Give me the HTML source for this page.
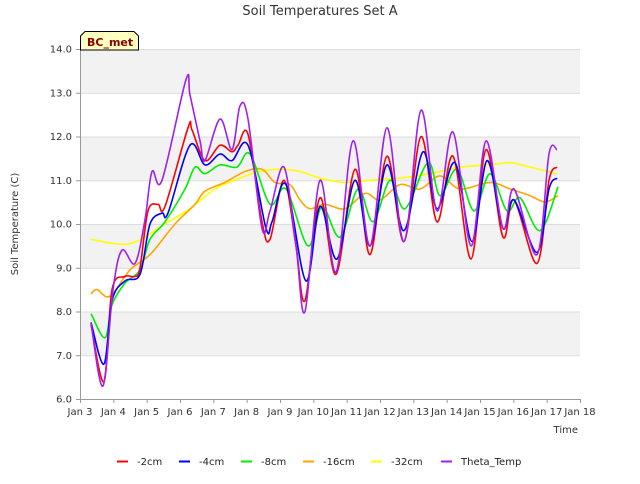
<!DOCTYPE html>
<html><head><meta charset="utf-8"><style>
body{margin:0;background:#fff;font-family:"DejaVu Sans","Liberation Sans",sans-serif;}
svg text{font-family:"DejaVu Sans","Liberation Sans",sans-serif;}
</style></head><body>
<svg id="chart" width="640" height="480" xmlns="http://www.w3.org/2000/svg">
<text x="320" y="15" text-anchor="middle" font-size="13" fill="#333">Soil Temperatures Set A</text>
<g id="plot"></g>
<g id="axes"></g>
<g id="series"></g>
<g>
<path d="M80.5,50 L80.5,36 L85,31.5 L134,31.5 L138.5,36 L138.5,50 Z" fill="#ffffc0" stroke="#000" stroke-width="1"/>
<text x="87" y="46" font-size="11" font-weight="bold" fill="#8b0000">BC_met</text>
</g>
<text x="18" y="224" font-size="10" fill="#333" text-anchor="middle" transform="rotate(-90 18 224)">Soil Temperature (C)</text>
<text x="578" y="433" font-size="10" fill="#333" text-anchor="end">Time</text>
<g id="legend"></g>
</svg>
<script>
const yTicks=[6,7,8,9,10,11,12,13,14];
const xTicks=[3,4,5,6,7,8,9,10,11,12,13,14,15,16,17,18];
const xTickLabels=["Jan 3","Jan 4","Jan 5","Jan 6","Jan 7","Jan 8","Jan 9","Jan 10","Jan 11","Jan 12","Jan 13","Jan 14","Jan 15","Jan 16","Jan 17","Jan 18"];
const seriesNames=["-2cm","-4cm","-8cm","-16cm","-32cm","Theta_Temp"];
const seriesColors=["#ff0000","#0000ff","#00ee00","#ffa500","#ffff00","#a020f0"];
const tRed=[3.33,3.72,3.96,4.35,4.65,4.8,5.04,5.34,5.55,6.24,6.36,6.75,7.2,7.56,7.74,8.04,8.46,8.7,9.12,9.48,9.75,10.2,10.68,11.25,11.7,12.21,12.72,13.23,13.71,14.19,14.73,15.18,15.69,16.02,16.71,17.07,17.31];
const vRed=[7.7,6.4,8.5,8.8,8.8,9.0,10.3,10.45,10.4,12.2,12.15,11.45,11.8,11.65,11.8,12.05,10.05,9.65,11.0,9.5,8.25,10.6,8.85,11.25,9.3,11.55,9.6,12.0,10.05,11.55,9.2,11.7,9.7,10.55,9.1,11.0,11.3];
const tBlue=[3.33,3.72,3.96,4.35,4.8,5.1,5.46,5.64,6.3,6.75,7.2,7.56,8.04,8.58,8.76,9.18,9.78,10.2,10.71,11.25,11.7,12.21,12.72,13.29,13.71,14.25,14.76,15.21,15.69,16.02,16.71,17.07,17.31];
const vBlue=[7.75,6.8,8.25,8.7,8.85,10.0,10.25,10.25,11.8,11.35,11.6,11.45,11.8,9.9,10.05,10.9,8.7,10.4,9.2,11.0,9.5,11.35,9.85,11.65,10.35,11.4,9.6,11.45,9.9,10.55,9.35,10.8,11.05];
const tGreen=[3.33,3.75,3.96,4.35,4.8,5.1,5.55,6.15,6.45,6.75,7.2,7.71,8.1,8.7,9.18,9.84,10.26,10.8,11.34,11.79,12.3,12.75,13.44,13.8,14.31,14.82,15.3,15.81,16.2,16.8,17.34];
const vGreen=[7.95,7.4,8.15,8.65,8.95,9.65,10.05,10.8,11.3,11.15,11.35,11.3,11.6,10.45,10.8,9.5,10.4,9.7,10.8,10.05,11.0,10.35,11.4,10.65,11.25,10.3,11.15,10.3,10.6,9.85,10.85];
const tOrange=[3.33,3.51,3.9,4.5,5.1,5.85,6.45,6.75,7.35,7.95,8.46,8.85,9.3,9.6,9.9,10.35,10.95,11.55,12.0,12.6,13.2,13.8,14.4,15.3,15.9,16.5,16.95,17.34];
const vOrange=[8.4,8.5,8.35,8.95,9.3,10.0,10.45,10.75,10.95,11.2,11.25,10.95,10.9,10.55,10.35,10.45,10.35,10.7,10.55,10.9,10.8,11.1,10.8,10.95,10.8,10.65,10.5,10.65];
const tYellow=[3.33,4.05,4.5,4.95,5.55,6.3,7.05,7.8,8.4,9.0,9.6,10.2,10.95,11.7,12.6,13.5,14.4,15.3,15.9,16.5,17.31];
const vYellow=[9.65,9.55,9.55,9.7,10.0,10.35,10.8,11.05,11.2,11.25,11.2,11.05,10.95,11.0,11.05,11.15,11.3,11.35,11.4,11.3,11.15];
const tTheta=[3.33,3.69,3.99,4.26,4.65,4.95,5.16,5.46,6.18,6.3,6.6,6.75,7.2,7.56,7.8,8.04,8.46,8.7,9.12,9.48,9.75,10.2,10.68,11.19,11.7,12.21,12.72,13.23,13.71,14.19,14.73,15.18,15.69,16.02,16.71,17.07,17.31];
const vTheta=[7.74,6.3,8.5,9.4,9.1,10.1,11.2,11.0,13.3,12.95,11.9,11.45,12.4,11.7,12.7,12.4,9.9,10.3,11.3,9.5,8.0,11.0,8.9,11.9,9.5,12.2,9.6,12.6,10.3,12.1,9.5,11.9,9.9,10.8,9.3,11.6,11.7];
const allT=[tRed,tBlue,tGreen,tOrange,tYellow,tTheta];
const allV=[vRed,vBlue,vGreen,vOrange,vYellow,vTheta];

const NS="http://www.w3.org/2000/svg";
const X0=80,X1=580,Y0=399,Y1=49;
function xs(d){return X0+(d-3)/15*(X1-X0);}
function ys(v){return Y0-(v-6)/8*(Y0-Y1);}
function mk(tag,attrs,parent){const e=document.createElementNS(NS,tag);for(const k in attrs)e.setAttribute(k,attrs[k]);parent.appendChild(e);return e;}
const plot=document.getElementById('plot'),axes=document.getElementById('axes'),series=document.getElementById('series'),legend=document.getElementById('legend');
// bands
for(let i=0;i<yTicks.length-1;i++){
  const lo=yTicks[i],hi=yTicks[i+1];
  const r=mk('rect',{x:X0,y:ys(hi),width:X1-X0,height:ys(lo)-ys(hi),fill:(lo%2===1)?'#f2f2f2':'#ffffff'},plot);
  
  
}
yTicks.forEach(v=>{
  const l=mk('line',{x1:X0,x2:X1,y1:ys(v)+0.5,y2:ys(v)+0.5,stroke:'#dcdcdc','stroke-width':1},plot);
  
  
  const tk=mk('line',{x1:X0-4,x2:X0,y1:ys(v)+0.5,y2:ys(v)+0.5,stroke:'#999'},axes);
  
  
  const t=mk('text',{x:X0-8,y:ys(v)+3.5,'text-anchor':'end','font-size':10,fill:'#333'},axes);
  t.textContent=v.toFixed(1);
  
  
});
const la=mk('line',{x1:X0+0.5,x2:X0+0.5,y1:Y1,y2:Y0,stroke:'#999'},axes);


const lb=mk('line',{x1:X0,x2:X1,y1:Y0+0.5,y2:Y0+0.5,stroke:'#999'},axes);


xTicks.forEach((d,i)=>{
  const tk=mk('line',{x1:xs(d)+0.5,x2:xs(d)+0.5,y1:Y0,y2:Y0+4,stroke:'#999'},axes);
  
  
  const t=mk('text',{x:xs(d),y:Y0+16,'text-anchor':'middle','font-size':10,fill:'#333'},axes);
  t.textContent=xTickLabels[i];
  
  
});
function smoothPath(pts){
  let d='M'+pts[0][0].toFixed(1)+','+pts[0][1].toFixed(1);
  for(let i=0;i<pts.length-1;i++){
    const p0=pts[Math.max(0,i-1)],p1=pts[i],p2=pts[i+1],p3=pts[Math.min(pts.length-1,i+2)];
    const c1=[p1[0]+(p2[0]-p0[0])/6,p1[1]+(p2[1]-p0[1])/6];
    const c2=[p2[0]-(p3[0]-p1[0])/6,p2[1]-(p3[1]-p1[1])/6];
    d+=' C'+c1[0].toFixed(1)+','+c1[1].toFixed(1)+' '+c2[0].toFixed(1)+','+c2[1].toFixed(1)+' '+p2[0].toFixed(1)+','+p2[1].toFixed(1);
  }
  return d;
}
const order=[4,3,2,0,1,5];
order.forEach(si=>{
  const pts=allT[si].map((t,i)=>[xs(t),ys(allV[si][i])]);
  const p=mk('path',{d:smoothPath(pts),fill:'none',stroke:seriesColors[si],'stroke-width':1.6,'stroke-linejoin':'round'},series);
  
  
});
const legX=[117,179,241,303,371,441];
seriesNames.forEach((n,i)=>{
  const g=mk('g',{},legend);
  
  
  mk('line',{x1:legX[i],x2:legX[i]+11,y1:461.5,y2:461.5,stroke:seriesColors[i],'stroke-width':2},g);
  const t=mk('text',{x:legX[i]+20,y:465,'font-size':10,fill:'#222'},g);
  t.textContent=n;
});
</script>
</body></html>
